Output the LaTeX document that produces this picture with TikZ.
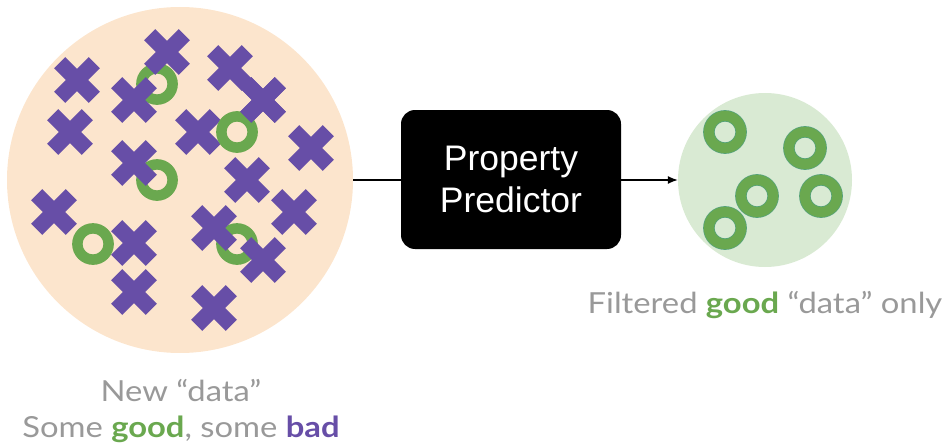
\documentclass[tikz,border=0pt]{standalone}
\usepackage{fontspec}
\setmainfont{Lato}[FakeStretch=1.13]
\newfontfamily\arialfont{Liberation Sans}
\usetikzlibrary{arrows.meta}
\definecolor{xcol}{HTML}{674EA7}
\definecolor{ocol}{HTML}{6AA84F}
\definecolor{orim}{HTML}{55A37A}
\definecolor{peach}{HTML}{FCE5CD}
\definecolor{lgreen}{HTML}{D9EAD3}
\definecolor{txtgray}{HTML}{999999}
\newcommand\badmark[2]{\fill[xcol,shift={(#1,#2)},rotate=45] (-24.5,-7.8) rectangle (24.5,7.8) (-7.8,-24.5) rectangle (7.8,24.5);}
\newcommand\goodmark[2]{\draw[ocol,line width=10.5] (#1,#2) circle[radius=15.6];}
\newcommand\goodring[2]{\draw[orim,line width=11.5] (#1,#2) circle[radius=16.1];\draw[ocol,line width=10] (#1,#2) circle[radius=16.1];}
\tikzset{
  lbl/.style={text=txtgray,font=\fontsize{29}{36}\selectfont,align=center,inner sep=0pt},
  conn/.style={line width=1.3pt,black},
}
\begin{document}
\begin{tikzpicture}[x=1pt,y=-1pt]
\useasboundingbox (0,0) rectangle (943,444);
\node[circle,fill=peach,minimum size=346,inner sep=0pt] (pool) at (180,180) {};
\node[circle,fill=lgreen,minimum size=174,inner sep=0pt] (filt) at (765,180) {};
\node[fill=black,rounded corners=14,minimum width=220,minimum height=139,inner sep=0pt,text=white,align=center,font=\arialfont\fontsize{35.5}{42}\selectfont] (pred) at (511,179.5) {Property\\Predictor};
\draw[conn] (pool.east) -- (pred.west |- pool.east);
\draw[conn,-{Latex[length=10,width=8]}] (pred.east |- filt.west) -- (filt.west);
% good in pool
\goodmark{157}{84}
\goodmark{157}{180}
\goodmark{93}{244}
\goodmark{237}{244}
% bad
\badmark{77}{80}
\badmark{167}{52}
\badmark{230}{68}
\badmark{263}{100}
\badmark{134}{100}
\badmark{70}{132}
\badmark{198}{132}
\goodmark{237}{132}
\badmark{263}{100}
\badmark{311}{148}
\badmark{134}{163}
\badmark{247}{180}
\badmark{54}{212}
\badmark{294}{212}
\badmark{214}{228}
\badmark{134}{243}
\badmark{263}{260}
\badmark{134}{292}
\badmark{214}{308}
% filtered
\goodring{725}{132}
\goodring{805}{148}
\goodring{757}{196}
\goodring{821}{196}
\goodring{725}{228}
% labels
\node[lbl,anchor=base] (lpool) at (181,437) {New “data”\\Some \textcolor{ocol}{\textbf{good}}, some \textcolor{xcol}{\textbf{bad}}};
\node[lbl,anchor=base] (lfilt) at (765,313) {Filtered \textcolor{ocol}{\textbf{good}} “data” only};
\end{tikzpicture}
\end{document}
